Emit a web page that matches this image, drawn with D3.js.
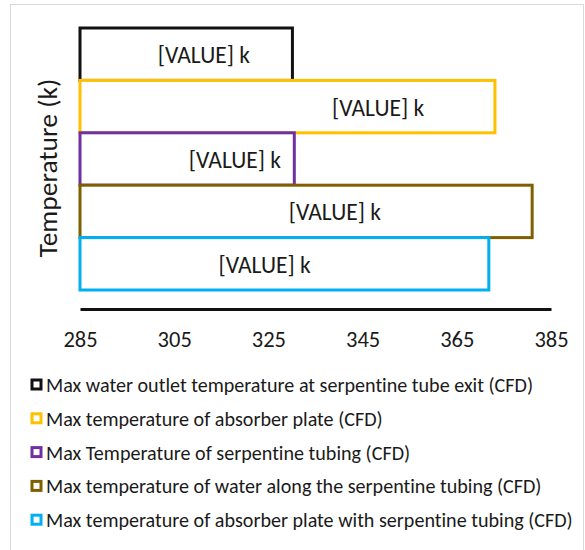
<!DOCTYPE html>
<html>
<head>
<meta charset="utf-8">
<script src="https://cdn.jsdelivr.net/npm/d3@7"></script>
<style>
  html, body { margin: 0; padding: 0; background: #fff; }
  svg { display: block; }
  text { font-family: Carlito, Calibri, Lato, "Open Sans", sans-serif; fill: #1a1a1a; font-variant-ligatures: none; }
</style>
</head>
<body>
<svg id="chart" width="585" height="550"></svg>
<script>
// Series, top to bottom
const seriesNames = [
  "Max water outlet temperature at serpentine tube exit (CFD)",
  "Max temperature of absorber plate (CFD)",
  "Max Temperature of serpentine tubing (CFD)",
  "Max temperature of water along the serpentine tubing (CFD)",
  "Max temperature of absorber plate with serpentine tubing (CFD)"
];
const seriesValues = [330.1, 373.1, 330.5, 381.0, 371.8];
const seriesColors = ["#111111", "#FFC000", "#7030A0", "#7F6000", "#00B0F0"];
// where each bar's text label sits, in axis units
const labelAt = [311.3, 348.3, 317.9, 339.1, 324.2];
const labelText = "[VALUE] k";
const tickValues = [285, 305, 325, 345, 365, 385];
const axisTitle = "Temperature (k)";

const svg = d3.select("#chart");

// outer chart frame
svg.append("rect")
  .attr("x", 10.5).attr("y", 4.5)
  .attr("width", 573).attr("height", 560)
  .attr("fill", "none").attr("stroke", "#d9d9d9").attr("stroke-width", 1);

const x = d3.scaleLinear().domain([285, 385]).range([80, 551]);
const y = d3.scaleBand().domain(d3.range(seriesNames.length)).range([28, 290]).padding(0);

const bars = svg.append("g");
bars.selectAll("rect")
  .data(seriesValues)
  .join("rect")
  .attr("x", x(285))
  .attr("y", (d, i) => y(i))
  .attr("width", d => x(d) - x(285))
  .attr("height", y.bandwidth())
  .attr("fill", "#fff")
  .attr("stroke", (d, i) => seriesColors[i])
  .attr("stroke-width", 3);

bars.selectAll("text")
  .data(labelAt)
  .join("text")
  .attr("x", d => x(d))
  .attr("y", (d, i) => y(i) + y.bandwidth() / 2 + 1)
  .attr("text-anchor", "middle")
  .attr("dominant-baseline", "central")
  .attr("font-size", 23.5)
  .text(labelText);

// category axis line
const axis = d3.axisBottom(x).tickValues(tickValues).tickSize(0).tickPadding(22).tickFormat(d3.format("d"));
const gx = svg.append("g").attr("transform", "translate(0,309)").call(axis);
gx.select(".domain").attr("stroke", "#111").attr("stroke-width", 3);
gx.selectAll(".tick text")
  .attr("font-size", 22.5)
  .attr("font-family", "Carlito, Calibri, Lato, 'Open Sans', sans-serif")
  .attr("fill", "#1a1a1a");

// axis title
svg.append("text")
  .attr("transform", "translate(47,168) rotate(-90)")
  .attr("text-anchor", "middle")
  .attr("dominant-baseline", "central")
  .attr("font-size", 27.5)
  .text(axisTitle);

// legend
const legend = svg.append("g")
  .selectAll("g")
  .data(seriesNames)
  .join("g")
  .attr("transform", (d, i) => `translate(0,${385 + i * 33.8})`);

legend.append("rect")
  .attr("x", 32).attr("y", -5)
  .attr("width", 9).attr("height", 9)
  .attr("fill", "#fff")
  .attr("stroke", (d, i) => seriesColors[i])
  .attr("stroke-width", 3);

legend.append("text")
  .attr("x", 46)
  .attr("y", 0)
  .attr("dominant-baseline", "central")
  .attr("font-size", 20.1)
  .text(d => d);
</script>
</body>
</html>
